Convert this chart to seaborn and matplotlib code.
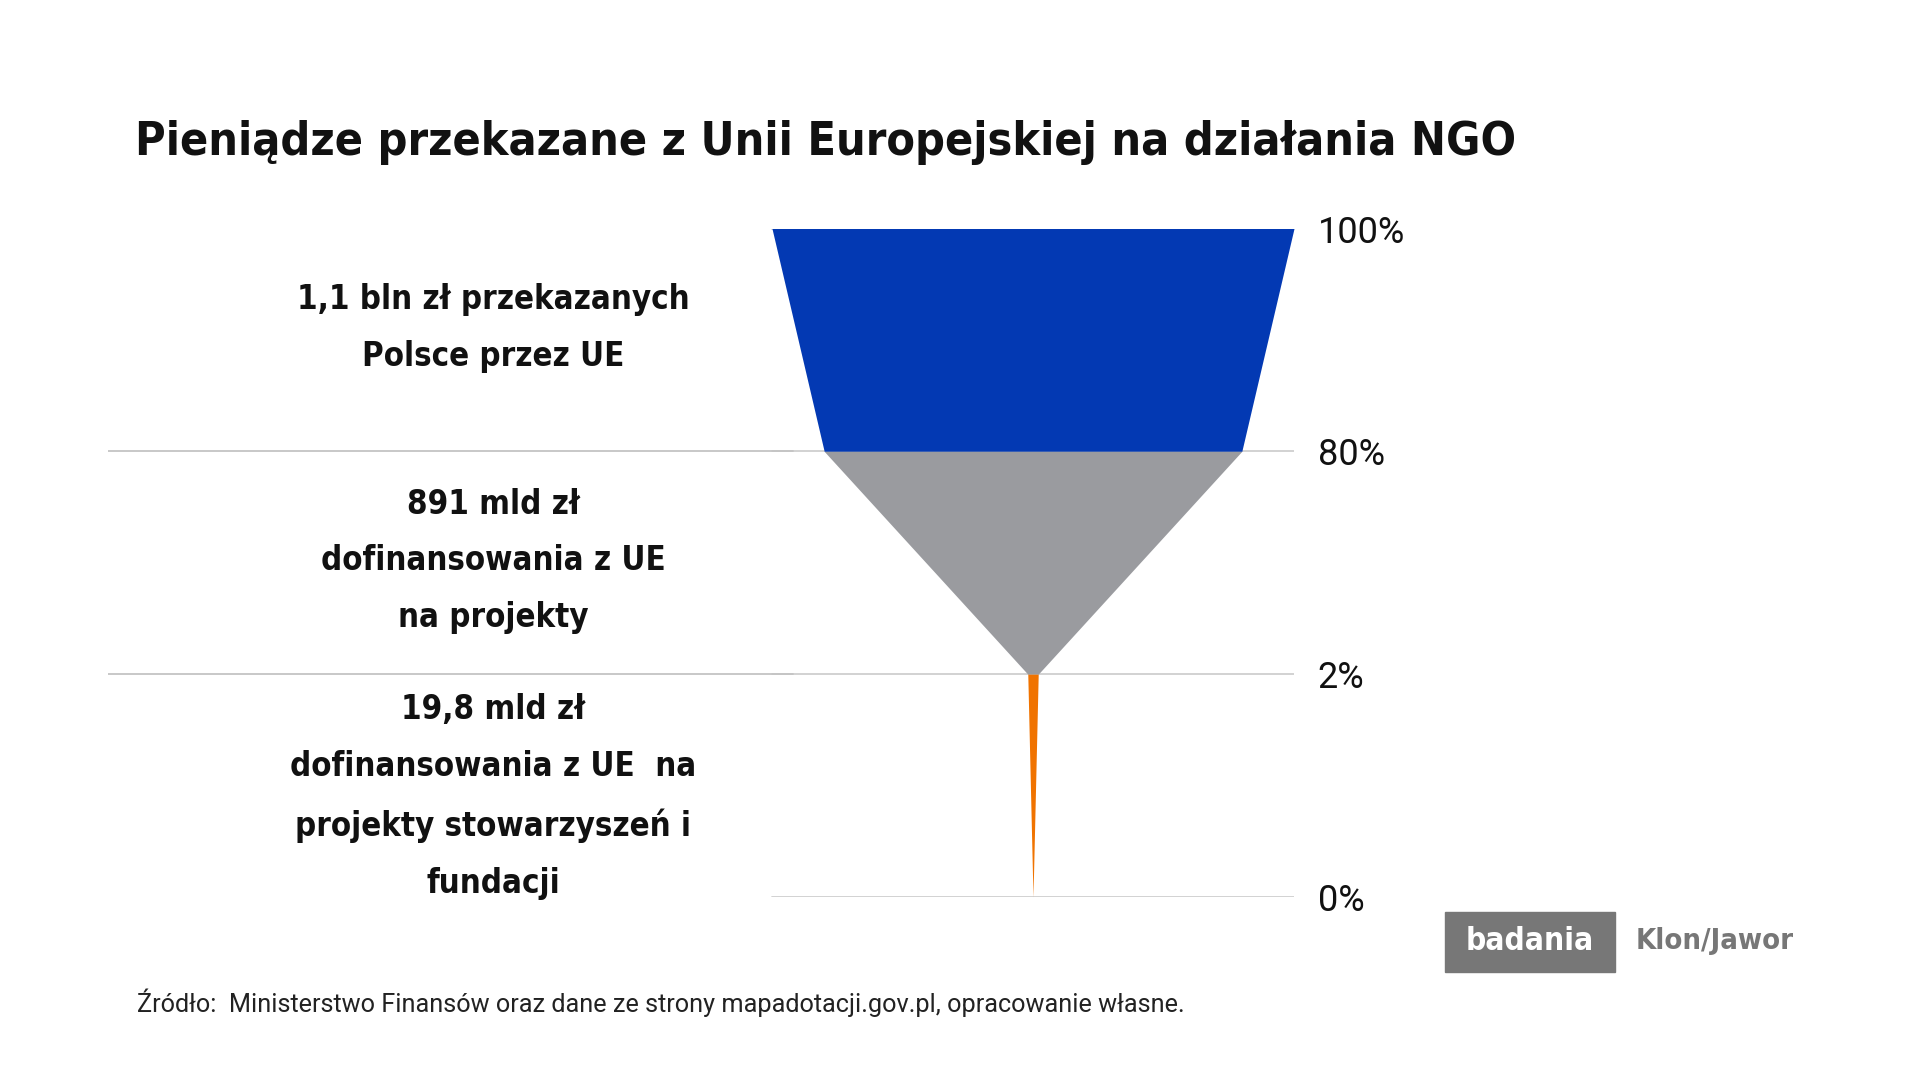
import numpy as np
import pandas as pd
import matplotlib
matplotlib.use("Agg")
import matplotlib.pyplot as plt
import matplotlib.font_manager as fm
from matplotlib.patches import Rectangle
import seaborn as sns

# funnel levels (top to bottom)
levels = ["100%", "80%", "2%", "0%"]
values = [100, 80, 2, 0]
seg_colors = ["#0339B3", "#9A9B9F", "#F07300"]
seg_labels = [
    "1,1 bln zł przekazanych\nPolsce przez UE",
    "891 mld zł\ndofinansowania z UE\nna projekty",
    "19,8 mld zł\ndofinansowania z UE  na\nprojekty stowarzyszeń i\nfundacji",
]
title = "Pieniądze przekazane z Unii Europejskiej na działania NGO"
source = "Źródło:  Ministerstwo Finansów oraz dane ze strony mapadotacji.gov.pl, opracowanie własne."

sns.set_theme(style="white")
plt.rcParams['font.family'] = ['Roboto', 'DejaVu Sans']

# condensed bold font for headings
cond = dict(family="DejaVu Sans", stretch="condensed", weight="bold")
try:
    fm.findfont(fm.FontProperties(family="Liberation Sans Narrow"), fallback_to_default=False)
    cond = dict(family="Liberation Sans Narrow", weight="bold")
except ValueError:
    pass

fig = plt.figure(figsize=(19.2, 10.8), dpi=100)
ax = fig.add_axes([108 / 1920, 183 / 1080, 1186 / 1920, 668.5 / 1080])

df = pd.DataFrame({"level": levels, "value": values})
df["pos"] = np.arange(len(df))[::-1]

# funnel segments
for i in range(len(df) - 1):
    y = [df["pos"][i], df["pos"][i + 1]]
    w = np.array([df["value"][i], df["value"][i + 1]]) / 2
    ax.fill_betweenx(y, -w, w, color=seg_colors[i], linewidth=0, zorder=3)

# grid lines
for p in df["pos"]:
    ax.axhline(p, xmin=(177.2 - 50) / 227.2, xmax=1, color="#CFCFCF", lw=1.3, zorder=1)
for p in df["pos"][1:3]:
    ax.axhline(p, xmin=0, xmax=(177.2 - 46) / 227.2, color="#C4C4C4", lw=1.3, zorder=1)

ax.set_xlim(-177.2, 50)
ax.set_ylim(0, 3)
ax.set_xticks([])
ax.yaxis.tick_right()
ax.set_yticks(df["pos"])
ax.set_yticklabels(df["level"])
ax.tick_params(axis="y", length=0, pad=17, labelsize=26, labelcolor="#111111")
sns.despine(ax=ax, left=True, bottom=True, right=True, top=True)

# segment labels
label_y = [2.553, 1.508, 0.45]
texts = []
for lab, yy in zip(seg_labels, label_y):
    t = ax.text(-103.4, yy, lab, ha="center", va="center", fontsize=28,
                linespacing=1.5, color="#111111", **cond)
    texts.append(t)

t_title = fig.text(135 / 1920, 1 - 155 / 1080, title, ha="left", va="baseline",
                   fontsize=46, color="#111111", **cond)

t_src = fig.text(137 / 1920, 1 - 1003 / 1080, source, ha="left", va="center",
                 fontsize=18, color="#222222", family=['Roboto', 'DejaVu Sans'])

# logo
fig.patches.append(Rectangle((1445 / 1920, 108 / 1080), 170 / 1920, 60 / 1080,
                             transform=fig.transFigure, color="#777777", zorder=0))
t_bad = fig.text(1530 / 1920, 1 - 941 / 1080, "badania", ha="center", va="center",
                 fontsize=26, color="white", **cond)
klon = dict(cond)
klon["weight"] = "semibold" if cond["family"] != "DejaVu Sans" else "bold"
t_klon = fig.text(1636 / 1920, 1 - 941 / 1080, "Klon/Jawor", ha="left", va="center",
                  fontsize=26, color="#777777", **klon)

# scale font sizes to match the reference text widths
fig.canvas.draw()
r = fig.canvas.get_renderer()
def fit(t, width_px):
    bb = t.get_window_extent(r)
    t.set_fontsize(t.get_fontsize() * width_px / bb.width)

fit(t_title, 1382)
fit(t_src, 1049)
fit(t_bad, 128)
fit(t_klon, 158)
fit(texts[2], 406)
fs = texts[2].get_fontsize()
for t in texts:
    t.set_fontsize(fs)
    t.set_linespacing(63 / (fs * 100 / 72))

fig.savefig("out.png", dpi=100, facecolor="white")
